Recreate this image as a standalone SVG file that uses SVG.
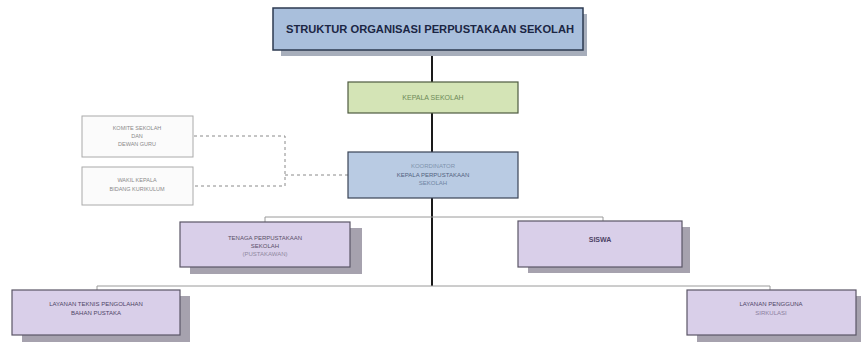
<svg xmlns="http://www.w3.org/2000/svg" width="861" height="343" viewBox="0 0 861 343">
<style>
.t{font-family:"Liberation Sans",Arial,sans-serif;text-anchor:middle}
.conn{stroke:#1a1a1a;stroke-width:2;fill:none}
.thin{stroke:#9a9a9a;stroke-width:1;fill:none}
.dash{stroke:#8a8a8a;stroke-width:1;fill:none;stroke-dasharray:3,3}
.shadow{fill:#a6a2ae}
.purple{fill:#d9cfe9;stroke:#5a5566;stroke-width:1.2}
.side{fill:#fbfbfb;stroke:#aaaaaa;stroke-width:1}
</style>
<rect width="861" height="343" fill="#ffffff"/>
<g id="connectors">
<line class="conn" x1="432" y1="50" x2="432" y2="286"/>
<line class="thin" x1="265" y1="217" x2="603" y2="217"/>
<line class="thin" x1="265" y1="217" x2="265" y2="222"/>
<line class="thin" x1="603" y1="217" x2="603" y2="221"/>
<line class="thin" x1="97" y1="286" x2="770" y2="286"/>
<line class="thin" x1="97" y1="286" x2="97" y2="290"/>
<line class="thin" x1="770" y1="286" x2="770" y2="290"/>
<polyline class="dash" points="194,136 285,136 285,186 194,186"/>
<line class="dash" x1="285" y1="175" x2="348" y2="175"/>
</g>
<g id="n-top">
<rect x="281" y="14" width="306" height="42" fill="#a7aebb"/>
<rect x="273" y="8" width="310" height="42" fill="#a9bfdc" stroke="#2c3a50" stroke-width="1.5"/>
<text class="t" x="430" y="33" font-size="11" font-weight="bold" fill="#1b2644" textLength="288" lengthAdjust="spacingAndGlyphs">STRUKTUR ORGANISASI PERPUSTAKAAN SEKOLAH</text>
</g>
<g id="n-green">
<rect x="348" y="82" width="170" height="31" fill="#d4e4b6" stroke="#4e5a40" stroke-width="1.2"/>
<text class="t" x="433" y="100" font-size="7" fill="#6e8a58">KEPALA SEKOLAH</text>
</g>
<g id="n-side1">
<rect class="side" x="82" y="116" width="111" height="41"/>
<text class="t" x="137" y="130" font-size="5.5" fill="#8a8a8a">KOMITE SEKOLAH</text>
<text class="t" x="137" y="138" font-size="5.5" fill="#8a8a8a">DAN</text>
<text class="t" x="137" y="146" font-size="5.5" fill="#8a8a8a">DEWAN GURU</text>
</g>
<g id="n-side2">
<rect class="side" x="82" y="167" width="111" height="38"/>
<text class="t" x="137" y="182" font-size="5.5" fill="#8a8a8a">WAKIL KEPALA</text>
<text class="t" x="137" y="191" font-size="5.5" fill="#8a8a8a">BIDANG KURIKULUM</text>
</g>
<g id="n-blue">
<rect x="348" y="152" width="170" height="46" fill="#b9cbe3" stroke="#3a4456" stroke-width="1.2"/>
<text class="t" x="433" y="168" font-size="6" fill="#7f94ad">KOORDINATOR</text>
<text class="t" x="433" y="177" font-size="6" fill="#52627e">KEPALA PERPUSTAKAAN</text>
<text class="t" x="433" y="185" font-size="6" fill="#6e84a2">SEKOLAH</text>
</g>
<g id="n-p1">
<rect class="shadow" x="190" y="228" width="172" height="46"/>
<rect class="purple" x="180" y="222" width="170" height="45"/>
<text class="t" x="265" y="240" font-size="6" fill="#5a5068">TENAGA PERPUSTAKAAN</text>
<text class="t" x="265" y="248" font-size="6" fill="#5a5068">SEKOLAH</text>
<text class="t" x="265" y="256" font-size="6" fill="#9088a0">(PUSTAKAWAN)</text>
</g>
<g id="n-p2">
<rect class="shadow" x="528" y="227" width="162" height="46"/>
<rect class="purple" x="518" y="221" width="164" height="46"/>
<text class="t" x="600" y="242" font-size="7" font-weight="bold" fill="#4e4466">SISWA</text>
</g>
<g id="n-p3">
<rect class="shadow" x="22" y="296" width="168" height="46"/>
<rect class="purple" x="12" y="290" width="168" height="45"/>
<text class="t" x="96" y="306" font-size="6" fill="#4e4466">LAYANAN TEKNIS PENGOLAHAN</text>
<text class="t" x="96" y="315" font-size="6" fill="#4e4466">BAHAN PUSTAKA</text>
</g>
<g id="n-p4">
<rect class="shadow" x="697" y="296" width="164" height="46"/>
<rect class="purple" x="687" y="290" width="169" height="45"/>
<text class="t" x="771" y="306" font-size="6" fill="#4e4466">LAYANAN PENGGUNA</text>
<text class="t" x="771" y="315" font-size="6" fill="#8a80a0">SIRKULASI</text>
</g>
</svg>
